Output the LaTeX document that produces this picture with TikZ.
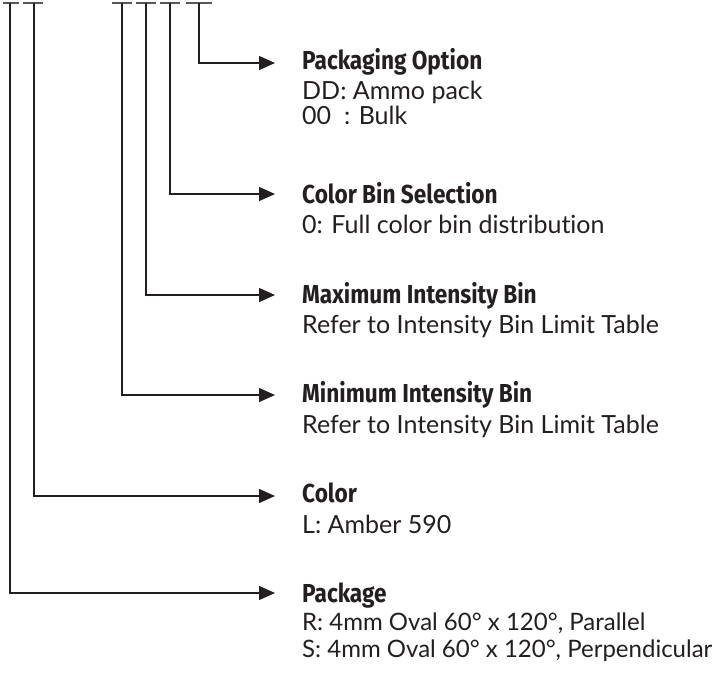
\documentclass[tikz,border=0pt]{standalone}
\usepackage{fontspec}
\setmainfont{Lato}[Ligatures={NoCommon,NoDiscretionary,NoContextual}]
\newfontfamily\titlefont[FakeStretch=0.87]{Fira Sans}
\usetikzlibrary{arrows.meta}
\definecolor{ink}{HTML}{231F20}
\tikzset{
  lead/.style={draw=ink, line width=1.3pt, -{Triangle[length=16pt,width=14pt]}},
  bar/.style={draw=ink!75, line width=1.6pt},
  title/.style={anchor=base west, inner sep=0pt, font=\titlefont\bfseries\fontsize{26}{30}\selectfont, text=ink},
  body/.style={anchor=base west, inner sep=0pt, font=\fontsize{25}{30}\selectfont, text=ink, align=left},
  bodysm/.style={body, font=\fontsize{24}{30}\selectfont},
}
\begin{document}
\begin{tikzpicture}[x=1pt,y=-1pt]
\useasboundingbox (0,0) rectangle (724,675);
% top bars
\foreach \n/\a/\b/\c in {b1/3/19/10, b2/23/43/34, b3/112/132/122, b4/136/156/146, b5/160/180/170, b6/186/212/199}{
  \coordinate (\n) at (\c,3);
  \draw[bar] (\a,3) -- (\b,3);
}
% arrow ends
\foreach \n/\y in {t6/63, t5/194, t4/295, t3/395, t2/496, t1/593}{
  \coordinate (\n) at (275,\y);
}
\draw[lead] (b6) |- (t6);
\draw[lead] (b5) |- (t5);
\draw[lead] (b4) |- (t4);
\draw[lead] (b3) |- (t3);
\draw[lead] (b2) |- (t2);
\draw[lead] (b1) |- (t1);
% texts
\node[title] (h6) at (302,69) {Packaging Option};
\node[body] (l6a) at (302,99) {DD: Ammo pack};
\node[body] (l6b) at (302,124) {00\ \ : Bulk};
\node[title] (h5) at (302,203) {Color Bin Selection};
\node[body] (l5a) at (302,233) {0: Full color bin distribution};
\node[title] (h4) at (302,303) {Maximum Intensity Bin};
\node[body] (l4a) at (302,333) {Refer to Intensity Bin Limit Table};
\node[title] (h3) at (302,402) {Minimum Intensity Bin};
\node[body] (l3a) at (302,433) {Refer to Intensity Bin Limit Table};
\node[title] (h2) at (302,502) {Color};
\node[body] (l2a) at (302,533) {L: Amber 590};
\node[title] (h1) at (302,602) {Package};
\node[bodysm] (l1a) at (302,630) {R: 4mm Oval 60° x 120°, Parallel};
\node[bodysm] (l1b) at (302,657) {S: 4mm Oval 60° x 120°, Perpendicular};
\end{tikzpicture}
\end{document}
